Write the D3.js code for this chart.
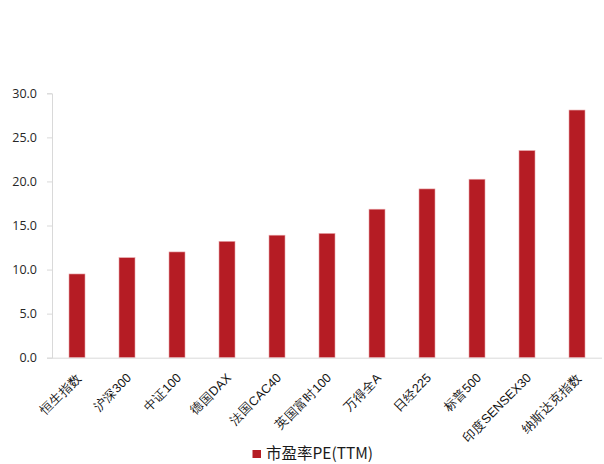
<!DOCTYPE html>
<html><head><meta charset="utf-8">
<script src="https://cdn.jsdelivr.net/npm/d3@7"></script>
<style>
html,body{margin:0;padding:0;background:#fff;}
svg{display:block;font-family:"Noto Sans CJK SC","Noto Sans",sans-serif;}
</style></head>
<body>
<svg id="c" width="604" height="464"></svg>
<script>
const categories = ["恒生指数","沪深300","中证100","德国DAX","法国CAC40","英国富时100","万得全A","日经225","标普500","印度SENSEX30","纳斯达克指数"];
const peValues = [9.5, 11.35, 12.0, 13.2, 13.9, 14.1, 16.85, 19.15, 20.25, 23.5, 28.1];
const yTicks = [0, 5, 10, 15, 20, 25, 30];
const seriesName = "市盈率PE(TTM)";

(function () {
const svg = d3.select("#c");
const mLeft = 52, mRight = 602, mTop = 93.3, mBottom = 357.7;
const barColor = "#b51c24";

const x = d3.scaleBand().domain(categories).range([mLeft, mRight]).paddingInner(0.68).paddingOuter(0.34);
const y = d3.scaleLinear().domain([0, 30]).range([mBottom, mTop]);

// y axis
const yAxis = svg.append("g").attr("transform", `translate(${mLeft},0)`)
  .call(d3.axisLeft(y).tickValues(yTicks).tickFormat(d3.format(".1f")).tickSize(5).tickPadding(10));
yAxis.select(".domain").attr("stroke", "#d9d9d9");
yAxis.selectAll(".tick line").attr("stroke", "#d9d9d9");
yAxis.selectAll(".tick text").attr("fill", "#262626").style("font-size", "12.5px").style("font-family", "'Open Sans','Noto Sans',sans-serif");

// bars
svg.append("g").selectAll("rect").data(categories).join("rect")
  .attr("x", d => x(d))
  .attr("width", x.bandwidth())
  .attr("y", (d, i) => y(peValues[i]))
  .attr("height", (d, i) => mBottom - y(peValues[i]))
  .attr("fill", barColor)
  .attr("stroke", "#e8a5a8").attr("stroke-width", 0.6);

// x axis
const xAxis = svg.append("g").attr("transform", `translate(0,${mBottom})`)
  .call(d3.axisBottom(x).tickSize(0).tickPadding(0));
xAxis.select(".domain").attr("stroke", "#d9d9d9").attr("d", `M${mLeft},0.5H${mRight}`);
xAxis.selectAll(".tick text")
  .attr("fill", "#111111")
  .style("font-size", "12.5px")
  .attr("text-anchor", "end")
  .attr("dy", 0)
  .attr("y", 0)
  .attr("transform", "translate(5,21) rotate(-45)");

// legend
const lg = svg.append("g");
lg.append("rect").attr("x", 252.5).attr("y", 450).attr("width", 8.5).attr("height", 8).attr("fill", barColor);
lg.append("text").attr("x", 266).attr("y", 459).attr("fill", "#1a1a1a")
  .style("font-size", "15.5px").text(seriesName);
})();
</script>
</body></html>
